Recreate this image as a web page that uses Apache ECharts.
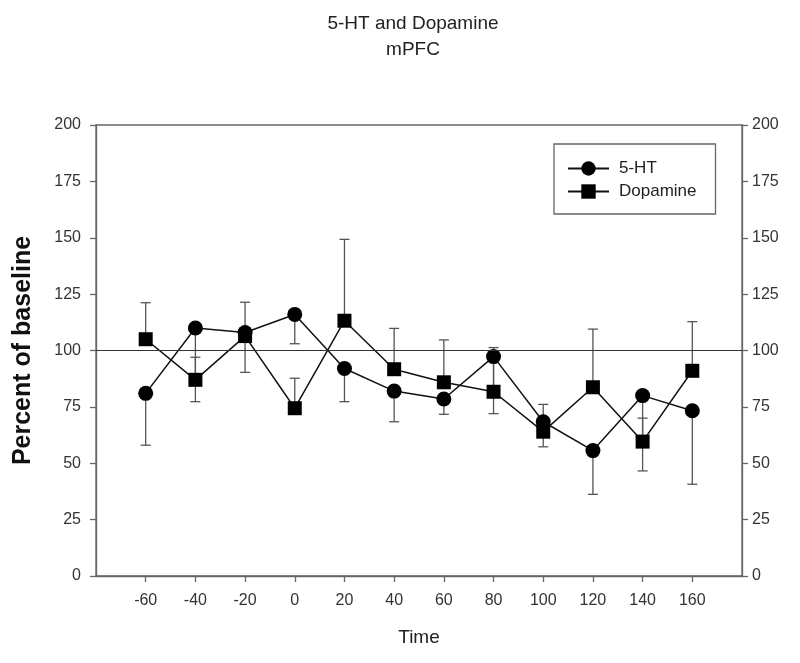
<!DOCTYPE html>
<html><head><meta charset="utf-8">
<script src="https://cdn.jsdelivr.net/npm/echarts@6/dist/echarts.min.js"></script>
<style>html,body{margin:0;padding:0;background:#fff}#c{width:800px;height:663px}</style>
</head><body><div id="c"></div>
<script>
const timeX = [-60, -40, -20, 0, 20, 40, 60, 80, 100, 120, 140, 160];
const ht5 = [81, 110, 108, 116, 92, 82, 78.5, 97.3, 68.4, 55.6, 80, 73.3];
const ht5ErrEnd = [58, 77.3, 90.3, 103, 77.3, 68.4, 71.7, 72, 57.3, 36.2, 46.6, 40.7];
const dopamine = [105, 87, 106.4, 74.4, 113.2, 91.7, 85.9, 81.7, 64, 83.7, 59.6, 91];
const dopErrEnd = [121.2, 97, 121.4, 87.7, 149.3, 109.8, 104.7, 101.3, 76.1, 109.5, 70, 112.8];

const FONT = "'Liberation Sans', Arial, sans-serif";
const AX = '#666';

function errData(vals, ends) { return timeX.map((x, i) => [x, vals[i], ends[i]]); }
function errRender(params, api) {
  const x = api.value(0), from = api.value(1), to = api.value(2);
  const p1 = api.coord([x, from]), p2 = api.coord([x, to]);
  const cw = 5;
  return {
    type: 'group',
    children: [
      { type: 'line', shape: { x1: p1[0], y1: p1[1], x2: p2[0], y2: p2[1] }, style: { stroke: '#555', lineWidth: 1.3 } },
      { type: 'line', shape: { x1: p2[0] - cw, y1: p2[1], x2: p2[0] + cw, y2: p2[1] }, style: { stroke: '#555', lineWidth: 1.3 } }
    ]
  };
}

const yAxisBase = {
  type: 'value', min: 0, max: 200, interval: 25,
  splitLine: { show: false },
  axisLine: { show: true, onZero: false, lineStyle: { color: AX, width: 1.3 } },
  axisTick: { show: true, inside: false, length: 6, lineStyle: { color: AX, width: 1.3 } },
  axisLabel: { color: '#333', fontSize: 16, fontFamily: FONT, margin: 15 }
};

const chart = echarts.init(document.getElementById('c'), null, { renderer: 'canvas' });
chart.setOption({
  animation: false,
  backgroundColor: '#fff',
  title: {
    text: '5-HT and Dopamine\nmPFC', left: 408, top: 6, textAlign: 'center',
    textStyle: { fontFamily: FONT, fontSize: 19, fontWeight: 'normal', color: '#222', lineHeight: 26 }
  },
  grid: { left: 96, right: 58, top: 125, bottom: 87, show: true, borderColor: AX, borderWidth: 1.3, backgroundColor: 'transparent' },
  legend: {
    left: 554, top: 144, orient: 'vertical',
    itemWidth: 41, itemHeight: 18, itemGap: 6,
    padding: [16, 19, 14, 13],
    borderColor: AX, borderWidth: 1.3, backgroundColor: '#fff',
    textStyle: { fontFamily: FONT, fontSize: 17, color: '#222', padding: [0, 0, 0, 5] },
    data: ['5-HT', 'Dopamine']
  },
  xAxis: {
    type: 'value', min: -80, max: 180, interval: 20,
    name: 'Time', nameLocation: 'middle', nameGap: 52,
    nameTextStyle: { fontFamily: FONT, fontSize: 19, color: '#222' },
    splitLine: { show: false },
    axisLine: { show: true, onZero: false, lineStyle: { color: AX, width: 1.3 } },
    axisTick: { show: true, inside: false, length: 6, lineStyle: { color: AX, width: 1.3 } },
    axisLabel: { color: '#333', fontSize: 16, fontFamily: FONT, margin: 17, showMinLabel: false, showMaxLabel: false }
  },
  yAxis: [
    Object.assign({}, yAxisBase, {
      position: 'left',
      name: 'Percent of baseline', nameLocation: 'middle', nameGap: 60,
      nameTextStyle: { fontFamily: FONT, fontSize: 25, fontWeight: 'bold', color: '#111' }
    }),
    Object.assign({}, yAxisBase, { position: 'right', axisLabel: Object.assign({}, yAxisBase.axisLabel, { margin: 10 }) })
  ],
  series: [
    { type: 'custom', name: 'err5ht', renderItem: errRender, data: errData(ht5, ht5ErrEnd), z: 1, silent: true },
    { type: 'custom', name: 'errDA', renderItem: errRender, data: errData(dopamine, dopErrEnd), z: 1, silent: true },
    {
      type: 'line', name: '5-HT', data: timeX.map((x, i) => [x, ht5[i]]), z: 3,
      symbol: 'circle', symbolSize: 15,
      lineStyle: { color: '#111', width: 1.5 }, itemStyle: { color: '#000' },
      markLine: {
        silent: true, symbol: 'none', label: { show: false },
        lineStyle: { color: '#333', width: 1.2, type: 'solid' },
        data: [{ yAxis: 100 }]
      }
    },
    {
      type: 'line', name: 'Dopamine', data: timeX.map((x, i) => [x, dopamine[i]]), z: 3,
      symbol: 'rect', symbolSize: 14,
      lineStyle: { color: '#111', width: 1.5 }, itemStyle: { color: '#000' }
    }
  ]
});
</script></body></html>
